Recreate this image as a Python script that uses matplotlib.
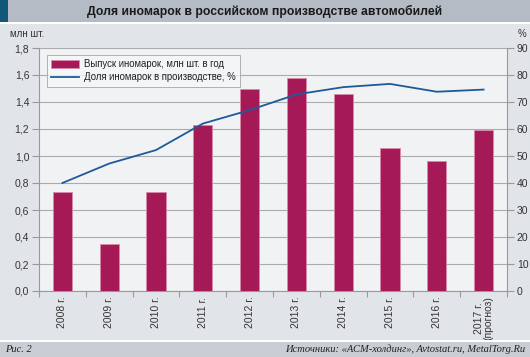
import matplotlib
matplotlib.use("Agg")
import matplotlib.pyplot as plt
from matplotlib.patches import Rectangle
import numpy as np

years = ["2008 г.", "2009 г.", "2010 г.", "2011 г.", "2012 г.", "2013 г.",
         "2014 г.", "2015 г.", "2016 г.", "2017 г.\n(прогноз)"]
output_mln = [0.73, 0.35, 0.73, 1.23, 1.50, 1.58, 1.46, 1.06, 0.96, 1.19]
share_pct = [40, 47.2, 52.2, 62, 67, 72.8, 75.5, 76.7, 73.8, 74.6]
left_ticks = ["0,0", "0,2", "0,4", "0,6", "0,8", "1,0", "1,2", "1,4", "1,6", "1,8"]
right_ticks = [0, 10, 20, 30, 40, 50, 60, 70, 80, 90]

W, H = 530, 357
fig = plt.figure(figsize=(W / 100, H / 100), dpi=100)
fig.patch.set_facecolor("#e1e5e9")
plt.rcParams['font.family'] = ['Liberation Sans', 'DejaVu Sans']

def px(x, y, w, h):
    return (x / W, 1 - (y + h) / H, w / W, h / H)

# header bar
fig.patches.append(Rectangle(px(0, 0, W, 22)[:2], 1, 22 / H, transform=fig.transFigure,
                             facecolor="#b4bbc4", edgecolor="none", zorder=0))
fig.patches.append(Rectangle(px(0, 0, 8, 22)[:2], 8 / W, 22 / H, transform=fig.transFigure,
                             facecolor="#0f5878", edgecolor="none", zorder=1))
fig.patches.append(Rectangle(px(0, 22, W, 2)[:2], 1, 2 / H, transform=fig.transFigure,
                             facecolor="white", edgecolor="none", zorder=0))
# footer bar
fig.patches.append(Rectangle((0, 0), 1, 15 / H, transform=fig.transFigure,
                             facecolor="#c9cdd4", edgecolor="none", zorder=0))
fig.patches.append(Rectangle((0, 15 / H), 1, 2 / H, transform=fig.transFigure,
                             facecolor="white", edgecolor="none", zorder=0))

fig.text(0.5, 1 - 11.5 / H, "Доля иномарок в российском производстве автомобилей",
         ha="center", va="center", fontsize=8.8, fontweight="bold", color="#1a1a1a")
fig.text(5 / W, 7.5 / H, "Рис. 2", ha="left", va="center", fontsize=7.5,
         style="italic", family="Liberation Serif", color="#222222")
fig.text(525 / W, 7.5 / H, "Источники: «АСМ-холдинг», Avtostat.ru, MetalTorg.Ru",
         ha="right", va="center", fontsize=7.6, style="italic",
         family="Liberation Serif", color="#222222")

ax = fig.add_axes([39 / W, 66 / H, 468 / W, 243 / H])
ax.set_facecolor("#f0f2f4")
x = np.arange(len(years))
bars = ax.bar(x, output_mln, width=0.41, color="#a51a56", edgecolor="#d88aa8",
              linewidth=0.6, zorder=3, label="Выпуск иномарок, млн шт. в год")
ax.set_xlim(-0.5, len(years) - 0.5)
ax.set_ylim(0, 1.8)
ax.set_yticks(np.arange(0, 1.81, 0.2))
ax.set_yticklabels(left_ticks)
ax.yaxis.grid(True, color="#a9abae", linewidth=0.8, zorder=0)
ax.set_axisbelow(True)
ax.set_xticks(np.arange(-0.5, len(years), 1.0), minor=False)
ax.set_xticklabels([])
ax.set_xticks(x, minor=True)
ax.set_xticklabels(years, minor=True, rotation=90, fontsize=7.5, color="#333333",
                   va="top", ha="center", linespacing=0.95)
ax.tick_params(axis="x", which="minor", length=0, pad=4)
ax.tick_params(axis="x", which="major", length=4, color="#999999", width=0.8)
ax.tick_params(axis="y", length=5, color="#999999", width=0.8, labelsize=7.5,
               labelcolor="#333333", pad=2)
for s in ["top", "right"]:
    ax.spines[s].set_visible(False)
for s in ["left", "bottom"]:
    ax.spines[s].set_color("#999999")
    ax.spines[s].set_linewidth(0.8)

ax2 = ax.twinx()
line, = ax2.plot(x, share_pct, color="#1f5a98", linewidth=1.3, zorder=4,
                 label="Доля иномарок в производстве, %")
ax2.set_ylim(0, 90)
ax2.set_yticks(right_ticks)
ax2.tick_params(axis="y", length=5, color="#999999", width=0.8, labelsize=7.5,
                labelcolor="#333333", pad=2)
for s in ["top", "left", "bottom"]:
    ax2.spines[s].set_visible(False)
ax2.spines["right"].set_color("#999999")
ax2.spines["right"].set_linewidth(0.8)

fig.text(10 / W, 1 - 34 / H, "млн шт.", ha="left", va="center", fontsize=7, color="#333333")
fig.text(522 / W, 1 - 34 / H, "%", ha="center", va="center", fontsize=7, color="#333333")

leg = ax2.legend([bars, line], [bars.get_label(), line.get_label()],
                 loc="upper left", bbox_to_anchor=(8 / 468, 1 - 7 / 243),
                 fontsize=6.9, frameon=True, fancybox=False, borderpad=0.45,
                 handlelength=2.9, handleheight=0.9, handletextpad=0.5,
                 labelspacing=0.3, borderaxespad=0)
leg.get_frame().set_facecolor("#f5f6f7")
leg.get_frame().set_edgecolor("#a0a0a0")
leg.get_frame().set_linewidth(0.7)
for t in leg.get_texts():
    t.set_color("#222222")

fig.savefig("out.png", dpi=100, facecolor=fig.get_facecolor())
